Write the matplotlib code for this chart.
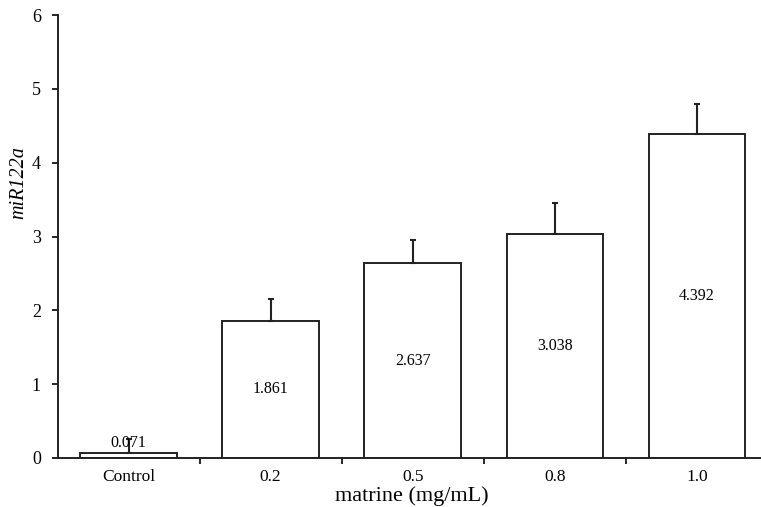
import numpy as np
import matplotlib
matplotlib.use("Agg")
import matplotlib.pyplot as plt

plt.rcParams.update({
    "font.family": "Liberation Serif",
    "xtick.direction": "out", "ytick.direction": "out",
})

categories = ["Control", "0.2", "0.5", "0.8", "1.0"]
values = [0.071, 1.861, 2.637, 3.038, 4.392]
errors = [0.19, 0.29, 0.31, 0.41, 0.40]

W, H = 761, 507
fig = plt.figure(figsize=(W / 100, H / 100), dpi=100)
# axes spans beyond the right edge like the original
x0, x1 = 57.5, 768.0
y0, y1 = 458.0, 15.0
ax = fig.add_axes([x0 / W, 1 - y0 / H, (x1 - x0) / W, (y0 - y1) / H])

x = np.arange(len(categories))
ax.bar(x, values, width=0.68, color="white", edgecolor="#222222", linewidth=1.4, zorder=2)
ax.errorbar(x, values, yerr=[np.zeros(len(errors)), errors], fmt="none",
            ecolor="#222222", elinewidth=1.5, capsize=2, capthick=1.5, zorder=3)

for xi, v in zip(x, values):
    if v > 0.5:
        ax.text(xi, v / 2, f"{v:.3f}", ha="center", va="center", fontsize=11.5)
    else:
        ax.text(xi, v + 0.02, f"{v:.3f}", ha="center", va="bottom", fontsize=11.5)

ax.set_xlim(-0.5, 4.5)
ax.set_ylim(0, 6)
ax.set_yticks(range(7))
ax.tick_params(axis="y", labelsize=13, length=4, width=1.2, pad=8)
ax.set_xticks(x + 0.5)
ax.set_xticklabels([])
ax.set_xticks(x, minor=True)
ax.set_xticklabels(categories, minor=True)
ax.tick_params(axis="x", which="major", length=4, width=1.2)
ax.tick_params(axis="x", which="minor", length=0, labelsize=12.5, pad=8)

for s in ["top", "right"]:
    ax.spines[s].set_visible(False)
for s in ["left", "bottom"]:
    ax.spines[s].set_linewidth(1.4)
    ax.spines[s].set_color("#222222")

ax.set_ylabel("miR122a", fontsize=14.5, style="italic")
ax.yaxis.set_label_coords((19 - x0) / (x1 - x0), (y0 - 183) / (y0 - y1))
ax.set_xlabel("matrine (mg/mL)", fontsize=16)
ax.xaxis.set_label_coords((412 - x0) / (x1 - x0), -(496 - y0) / (y0 - y1))
ax.xaxis.label.set_va("center")
ax.yaxis.label.set_va("center")

fig.savefig("out.png", dpi=100)
